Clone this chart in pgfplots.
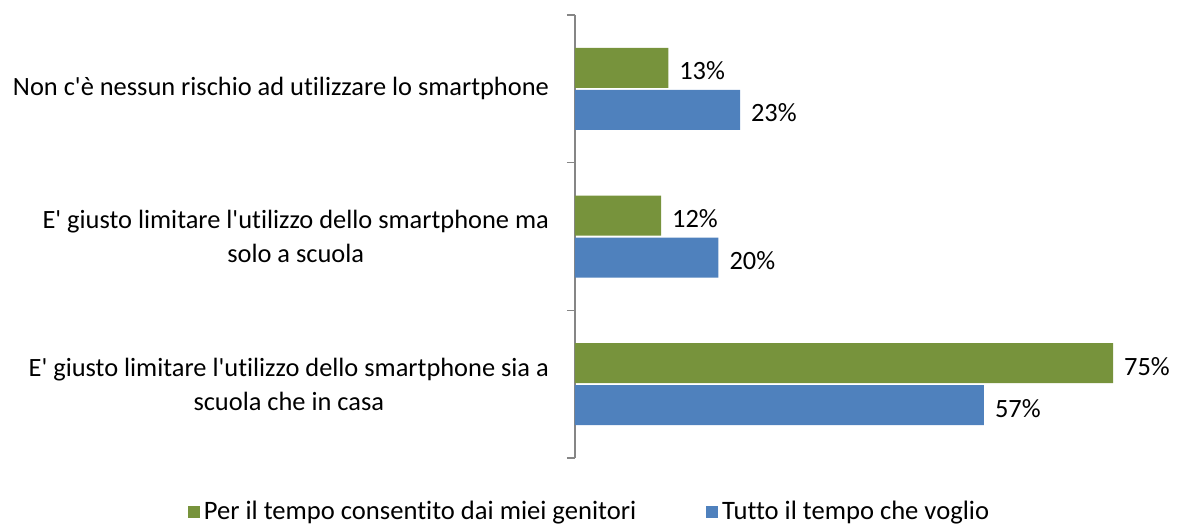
\documentclass[border=0pt]{standalone}
\usepackage{fontspec}
\setmainfont{Carlito}[Ligatures={NoCommon}]
\usepackage{pgfplots}
\pgfplotsset{compat=1.18}
\definecolor{greenbar}{HTML}{77933C}
\definecolor{bluebar}{HTML}{4F81BD}
\definecolor{axisgray}{HTML}{868686}
\newcommand{\q}{\textquotesingle}

\begin{document}
\begin{tikzpicture}
\begin{axis}[
    at={(0,0)}, anchor=south west,
    scale only axis,
    width=287pt, height=221.5pt,
    xmin=0, xmax=80,
    ymin=-0.5, ymax=2.5,
    xbar, bar width=20pt,
    hide x axis,
    axis y line*=left,
    y axis line style={axisgray, line width=0.8pt},
    ytick={0,1,2},
    yticklabels={{E\q{} giusto limitare l\q{}utilizzo dello smartphone sia a\\scuola che in casa},
                 {E\q{} giusto limitare l\q{}utilizzo dello smartphone ma\\solo a scuola},
                 {Non c\q{}è nessun rischio ad utilizzare lo smartphone}},
    major tick length=0pt,
    minor ytick={-0.5,0.5,1.5,2.5},
    minor tick length=4pt,
    tick align=outside,
    minor tick style={axisgray, line width=0.8pt},
    yticklabel style={align=center, font=\fontsize{13.2}{17}\selectfont, xshift=-9.5pt},
    /pgf/number format/assume math mode=true,
    nodes near coords={\pgfmathprintnumber{\pgfplotspointmeta}\%},
    nodes near coords style={font=\fontsize{13.2}{15}\selectfont, black, xshift=2pt, yshift=-1.5pt},
    legend columns=2,
    legend style={at={(axis description cs:0.027,-0.122)}, anchor=center,
        draw=none, fill=none, font=\fontsize{13.3}{15}\selectfont,
        /tikz/every even column/.append style={column sep=33pt}},
    clip=false,
]

% Per il tempo consentito dai miei genitori
\addplot[fill=greenbar, draw=none, bar shift=10.5pt,
    legend image code/.code={\fill[greenbar] (0pt,-3pt) rectangle (6pt,3pt);}]
coordinates {
    (75,0)
    (12,1)
    (13,2)
};

% Tutto il tempo che voglio
\addplot[fill=bluebar, draw=none, bar shift=-10.5pt,
    legend image code/.code={\fill[bluebar] (0pt,-3pt) rectangle (6pt,3pt);}]
coordinates {
    (57,0)
    (20,1)
    (23,2)
};

\legend{Per il tempo consentito dai miei genitori, Tutto il tempo che voglio}
\end{axis}
\path[use as bounding box] (-287.5pt,-33.5pt) rectangle (302pt,229pt);
\end{tikzpicture}
\end{document}
